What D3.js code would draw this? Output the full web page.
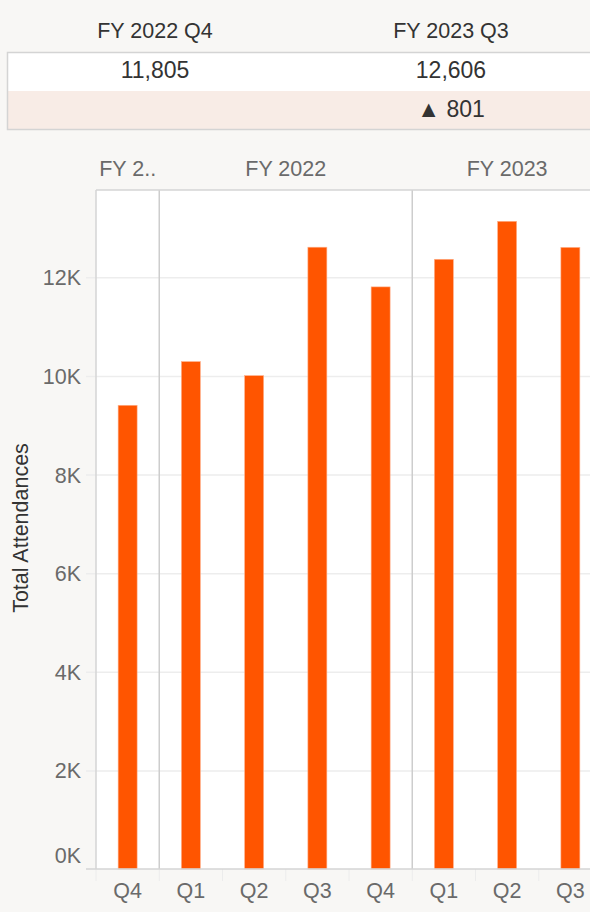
<!DOCTYPE html>
<html>
<head>
<meta charset="utf-8">
<script src="https://cdn.jsdelivr.net/npm/d3@7"></script>
<style>
  html, body { margin: 0; padding: 0; background: #f8f7f5; overflow: hidden; }
  svg { display: block; font-family: "Liberation Sans", Arial, sans-serif; }
</style>
</head>
<body>
<svg id="Canvas" width="590" height="912"></svg>
<script>
// chart data
var fiscalYears = ["FY 2021", "FY 2022", "FY 2022", "FY 2022", "FY 2022", "FY 2023", "FY 2023", "FY 2023"];
var quarters = ["Q4", "Q1", "Q2", "Q3", "Q4", "Q1", "Q2", "Q3"];
var attendances = [9404, 10290, 10005, 12610, 11805, 12365, 13135, 12606];
var yTicks = [0, 2000, 4000, 6000, 8000, 10000, 12000];
var compareIdx = [4, 7]; // FY 2022 Q4 vs FY 2023 Q3

var barColor = "#ff5500",
    textDark = "#333333",
    textGray = "#6a6a6a",
    gridColor = "#ededed",
    borderColor = "#d4d4d4";

var svg = d3.select("#Canvas");
var W = 590;
var plot = { left: 96, top: 190, bottom: 869, right: 602 };

var keys = quarters.map(function(q, i){ return fiscalYears[i] + " " + q; });

var x = d3.scaleBand()
  .domain(keys)
  .range([plot.left, plot.right])
  .paddingInner(0.7)
  .paddingOuter(0.35);

var y = d3.scaleLinear()
  .domain([0, 13770])
  .range([plot.bottom, plot.top]);

/*
 * summary table at the top
 */
var table = svg.append("g");
var colW = 296, tX = 7;
table.append("rect").attr("x", tX).attr("y", 52).attr("width", colW * 2).attr("height", 39).attr("fill", "#ffffff");
table.append("rect").attr("x", tX).attr("y", 91).attr("width", colW * 2).attr("height", 39).attr("fill", "#f8ece6");
table.append("rect").attr("x", tX + 0.5).attr("y", 52.5).attr("width", colW * 2).attr("height", 77)
  .attr("fill", "none").attr("stroke", borderColor).attr("stroke-width", 1.5);

compareIdx.forEach(function(idx, c){
  var cx = tX + colW * c + colW / 2;
  table.append("text").attr("x", cx).attr("y", 37.5).attr("text-anchor", "middle")
    .attr("font-size", 21.5).attr("fill", textDark).text(keys[idx]);
  table.append("text").attr("x", cx).attr("y", 78).attr("text-anchor", "middle")
    .attr("font-size", 23).attr("fill", textDark).text(d3.format(",")(attendances[idx]));
  if (c > 0) {
    var diff = attendances[idx] - attendances[compareIdx[c - 1]];
    table.append("text").attr("x", cx).attr("y", 117).attr("text-anchor", "middle")
      .attr("font-size", 23).attr("fill", textDark)
      .text((diff >= 0 ? "\u25B2 " : "\u25BC ") + d3.format(",")(Math.abs(diff)));
  }
});

/*
 * plot area
 */
svg.append("rect")
  .attr("x", plot.left).attr("y", plot.top)
  .attr("width", W - plot.left).attr("height", plot.bottom - plot.top)
  .attr("fill", "#ffffff");

// gridlines
var grid = svg.append("g")
  .attr("transform", "translate(86,0)")
  .call(d3.axisRight(y).tickValues(yTicks.filter(function(d){ return d > 0; })).tickSize(W - 86).tickFormat(""));
grid.select(".domain").remove();
grid.selectAll("line").attr("stroke", gridColor).attr("stroke-width", 1.5);

// y axis labels
var yAxis = svg.append("g")
  .attr("transform", "translate(86,0)")
  .call(d3.axisLeft(y).tickValues(yTicks).tickSize(0).tickPadding(5)
    .tickFormat(function(d){ return (d / 1000) + "K"; }));
yAxis.select(".domain").remove();
yAxis.selectAll("text")
  .attr("font-size", 21.5).attr("fill", textGray).attr("font-family", null)
  .attr("dy", function(d){ return d === 0 ? "-0.3em" : "0.35em"; });

// y title
svg.append("text")
  .attr("transform", "translate(28,528) rotate(-90)")
  .attr("text-anchor", "middle")
  .attr("font-size", 21.5).attr("fill", textDark)
  .text("Total Attendances");

// year panels
var panels = [];
fiscalYears.forEach(function(fy, i){
  var last = panels[panels.length - 1];
  if (!last || last.fy !== fy) panels.push({ fy: fy, first: i, last: i });
  else last.last = i;
});
var step = x.step();

panels.forEach(function(p, k){
  var x0 = plot.left + p.first * step,
      x1 = plot.left + (p.last + 1) * step;
  if (k > 0) {
    svg.append("line").attr("x1", x0).attr("x2", x0).attr("y1", plot.top).attr("y2", plot.bottom)
      .attr("stroke", "#cdcdcd").attr("stroke-width", 1.5);
  }
  var t = svg.append("text")
    .attr("x", (x0 + x1) / 2).attr("y", 175.5)
    .attr("text-anchor", "middle")
    .attr("font-size", 21.5).attr("fill", textGray)
    .text(p.fy);
  // shorten the label when it does not fit its panel
  var full = p.fy, n = full.length;
  while (t.node().getComputedTextLength() > (x1 - x0) - 5 && n > 1) {
    n -= 1;
    t.text(full.slice(0, n) + "..");
  }
});

// bars
svg.append("g").selectAll("rect")
  .data(attendances)
  .enter().append("rect")
  .attr("x", function(d, i){ return x(keys[i]); })
  .attr("y", function(d){ return y(d); })
  .attr("width", x.bandwidth())
  .attr("height", function(d){ return y(0) - y(d); })
  .attr("fill", barColor)
  .attr("stroke", "#ffb08a").attr("stroke-width", 0.6);

// bottom axis
var xAxis = svg.append("g")
  .attr("transform", "translate(0," + plot.bottom + ")")
  .call(d3.axisBottom(x).tickSize(0).tickPadding(14)
    .tickFormat(function(d, i){ return quarters[i]; }));
xAxis.select(".domain").remove();
xAxis.selectAll("text").attr("font-size", 21.5).attr("fill", textGray).attr("font-family", null);

// column separators under the baseline
svg.append("g").selectAll("line")
  .data(d3.range(quarters.length + 1))
  .enter().append("line")
  .attr("x1", function(i){ return plot.left + i * step; })
  .attr("x2", function(i){ return plot.left + i * step; })
  .attr("y1", plot.bottom).attr("y2", plot.bottom + 12)
  .attr("stroke", "#ececec").attr("stroke-width", 1);

// frame lines
svg.append("line").attr("x1", 86).attr("x2", W).attr("y1", plot.bottom).attr("y2", plot.bottom)
  .attr("stroke", borderColor).attr("stroke-width", 1.5);
svg.append("line").attr("x1", plot.left).attr("x2", plot.left).attr("y1", plot.top).attr("y2", plot.bottom)
  .attr("stroke", borderColor).attr("stroke-width", 1.5);
svg.append("line").attr("x1", plot.left).attr("x2", W).attr("y1", plot.top).attr("y2", plot.top)
  .attr("stroke", borderColor).attr("stroke-width", 1.5);
</script>
</body>
</html>
